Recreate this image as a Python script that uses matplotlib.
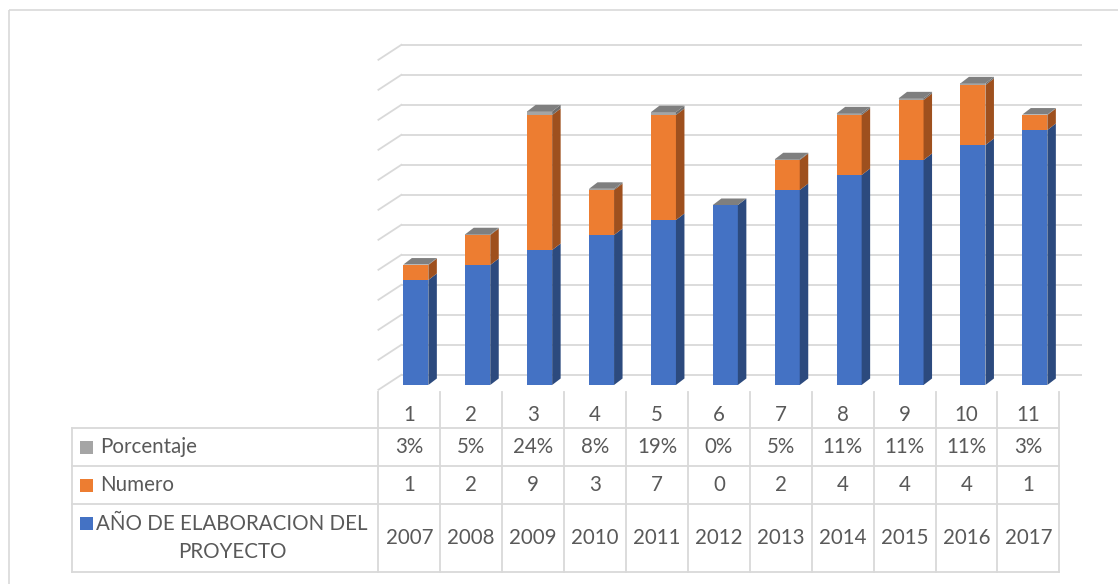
import matplotlib
matplotlib.use("Agg")
import matplotlib.pyplot as plt
from matplotlib.patches import Polygon, Rectangle

# ---------------- data ----------------
categories = ['1', '2', '3', '4', '5', '6', '7', '8', '9', '10', '11']
anios = [2007, 2008, 2009, 2010, 2011, 2012, 2013, 2014, 2015, 2016, 2017]
numero = [1, 2, 9, 3, 7, 0, 2, 4, 4, 4, 1]
porcentaje = [0.03, 0.05, 0.24, 0.08, 0.19, 0.00, 0.05, 0.11, 0.11, 0.11, 0.03]
series_names = ['Porcentaje', 'Numero', 'AÑO DE ELABORACION DEL\nPROYECTO']
y_min, y_max, y_step = 2000, 2024, 2

# ---------------- style ----------------
W, H, DPI = 1118, 584, 100
FONT = ['Lato', 'DejaVu Sans']
TXT = '#595959'
GRID = '#D9D9D9'
c_blue, c_blue_side = '#4472C4', '#2C4A7E'
c_orange, c_orange_side = '#ED7D31', '#9E501E'
c_grey, c_grey_side, c_grey_top = '#A5A5A5', '#6E6E6E', '#7F7F7F'
plt.rcParams['font.family'] = FONT

fig = plt.figure(figsize=(W / DPI, H / DPI), dpi=DPI)
fig.patch.set_facecolor('white')

# plot area geometry (pixels)
px_left, px_right = 378.4, 1059.3
px_bottom = 385.0
px_per_unit = 15.0
px_top = px_bottom - (y_max - y_min) * px_per_unit
ax = fig.add_axes([px_left / W, (H - px_bottom) / H,
                   (px_right - px_left) / W, (px_bottom - px_top) / H])
ax.set_xlim(-0.5, len(categories) - 0.5)
ax.set_ylim(y_min, y_max)
ax.axis('off')

col_px = (px_right - px_left) / len(categories)
bar_w = 25 / col_px
bar_shift = 6.5 / col_px
ddx = 8.5 / col_px          # depth offset (x) in data units
ddy = 6.5 / px_per_unit     # depth offset (y) in data units

# back-wall gridlines with slanted floor/side edge
back_off = 0.68
slant_dx = 23 / col_px
x_end = len(categories) - 0.5 + 22.7 / col_px
for v in range(y_min, y_max - 1, y_step):
    yb = v + back_off
    ax.plot([-0.5 + slant_dx, x_end], [yb, yb], color=GRID, lw=1.3,
            zorder=1, clip_on=False, solid_capstyle='butt')
    ax.plot([-0.5, -0.5 + slant_dx], [yb - 1.0, yb], color=GRID, lw=1.3,
            zorder=1, clip_on=False)

# 3D stacked bars
xs = [i + bar_shift for i in range(len(categories))]
series = [(anios, c_blue, c_blue_side), (numero, c_orange, c_orange_side),
          (porcentaje, c_grey, c_grey_side)]
bottoms = [y_min] * len(categories)
for vals, cf, cs in series:
    heights = []
    for i, v in enumerate(vals):
        heights.append(v - y_min if cf == c_blue else v)
    ax.bar(xs, heights, bottom=bottoms, width=bar_w, color=cf,
           linewidth=0, zorder=3)
    for i, x in enumerate(xs):
        b = bottoms[i]
        t = b + heights[i]
        if heights[i] <= 0:
            continue
        xr = x + bar_w / 2
        side = Polygon([(xr, b), (xr + ddx, b + ddy), (xr + ddx, t + ddy), (xr, t)],
                       closed=True, facecolor=cs, edgecolor='none', zorder=3)
        ax.add_patch(side)
    bottoms = [bottoms[i] + heights[i] for i in range(len(categories))]

# top faces
for i, x in enumerate(xs):
    t = bottoms[i]
    xl, xr = x - bar_w / 2, x + bar_w / 2
    top = Polygon([(xl, t), (xr, t), (xr + ddx, t + ddy), (xl + ddx, t + ddy)],
                  closed=True, facecolor=c_grey_top, edgecolor='none', zorder=4)
    ax.add_patch(top)

# ---------------- data table (overlay in pixel coords) ----------------
ov = fig.add_axes([0, 0, 1, 1], zorder=-1)
ov.set_xlim(0, W)
ov.set_ylim(H, 0)
ov.axis('off')

# outer chart border
ov.add_patch(Rectangle((9, 10), W, H, fill=False, edgecolor=GRID, lw=1.2))

tab_left = 72.0
row_y = [391.7, 428.3, 466.0, 504.3, 571.7]
lc = '#D9D9D9'
lw = 1.3
for k in range(len(categories) + 1):
    xk = px_left + k * col_px
    ov.plot([xk, xk], [row_y[0], row_y[-1]], color=lc, lw=lw)
for yk in row_y[1:]:
    ov.plot([tab_left, px_right], [yk, yk], color=lc, lw=lw)
ov.plot([tab_left, tab_left], [row_y[1], row_y[-1]], color=lc, lw=lw)

fs = 14.8
col_c = [px_left + (k + 0.5) * col_px for k in range(len(categories))]
for k, c in enumerate(categories):
    ov.text(col_c[k], 415, c, ha='center', va='center', fontsize=fs, color=TXT)
    ov.text(col_c[k], 447, f"{round(porcentaje[k] * 100)}%", ha='center',
            va='center', fontsize=fs, color=TXT)
    ov.text(col_c[k], 485, str(numero[k]), ha='center', va='center',
            fontsize=fs, color=TXT)
    ov.text(col_c[k], 538, str(anios[k]), ha='center', va='center',
            fontsize=fs, color=TXT)

# row headers with legend keys
ov.add_patch(Rectangle((80, 440.5), 13, 13, facecolor=c_grey, edgecolor='none'))
ov.text(100, 447, series_names[0], ha='left', va='center', fontsize=fs, color=TXT)
ov.add_patch(Rectangle((80, 478.5), 13, 13, facecolor=c_orange, edgecolor='none'))
ov.text(100, 485, series_names[1], ha='left', va='center', fontsize=fs, color=TXT)
ov.add_patch(Rectangle((80, 517), 13, 13, facecolor=c_blue, edgecolor='none'))
ov.text(232, 538, series_names[2], ha='center', va='center', fontsize=fs,
        color=TXT, multialignment='center', linespacing=1.45)

fig.savefig('out.png', dpi=DPI, facecolor='white')
